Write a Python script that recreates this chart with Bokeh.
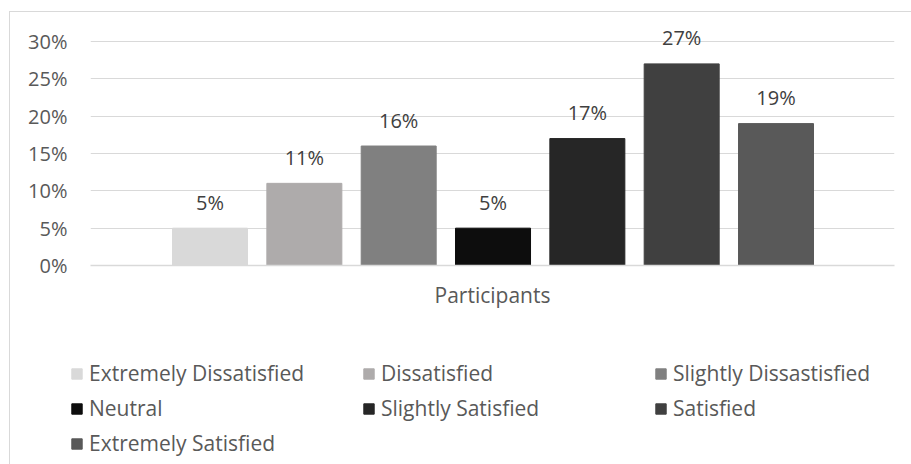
from bokeh.plotting import figure
from bokeh.layouts import column
from bokeh.models import (ColumnDataSource, Range1d, FixedTicker, NumeralTickFormatter,
                          LabelSet, Legend, LegendItem)
from bokeh.core.properties import value
from bokeh.embed import file_html
from bokeh.resources import INLINE

categories = ["Extremely Dissatisfied", "Dissatisfied", "Slightly Dissastisfied", "Neutral",
              "Slightly Satisfied", "Satisfied", "Extremely Satisfied"]
values = [0.05, 0.11, 0.16, 0.05, 0.17, 0.27, 0.19]
colors = ["#D9D9D9", "#AEABAB", "#808080", "#0D0D0D", "#262626", "#404040", "#595959"]
y_ticks = [0, 0.05, 0.10, 0.15, 0.20, 0.25, 0.30]
x_title = "Participants"

FONT = "Open Sans"
FS = "20px"
FS_WORDS = "21px"
TXT = "#595959"

src = ColumnDataSource(dict(
    x=list(range(len(categories))),
    top=values,
    color=colors,
    cat=categories,
    lab=[f"{round(v*100)}%" for v in values],
))

# ---------- chart ----------
p = figure(width=901, height=320, output_backend="svg", toolbar_location=None,
           x_range=Range1d(-1.267, 7.256), y_range=Range1d(0, 0.3388),
           min_border_left=80, min_border_right=17, min_border_top=0, min_border_bottom=67)
p.frame_align = False
p.outline_line_color = None
p.background_fill_color = "white"
p.border_fill_color = "white"

r = p.vbar(x="x", top="top", bottom=0, width=0.795, color="color", source=src)

p.yaxis.ticker = FixedTicker(ticks=y_ticks)
p.yaxis.formatter = NumeralTickFormatter(format="0%")
p.yaxis.axis_line_color = None
p.yaxis.major_tick_line_color = None
p.yaxis.minor_tick_line_color = None
p.yaxis.major_tick_out = 0
p.yaxis.major_tick_in = 0
p.yaxis.major_label_standoff = 23
p.yaxis.major_label_text_font = FONT
p.yaxis.major_label_text_font_size = FS
p.yaxis.major_label_text_color = TXT

p.xaxis.ticker = FixedTicker(ticks=[])
p.xaxis.axis_line_color = "#D9D9D9"
p.xaxis.axis_line_width = 1.5
p.xaxis.major_tick_line_color = None
p.xaxis.minor_tick_line_color = None
p.xaxis.major_tick_out = 0
p.xaxis.major_tick_in = 0
p.xaxis.major_label_text_font_size = "0px"
p.xaxis.axis_label = x_title
p.xaxis.axis_label_text_font = FONT
p.xaxis.axis_label_text_font_size = FS_WORDS
p.xaxis.axis_label_text_font_style = "normal"
p.xaxis.axis_label_text_color = TXT
p.xaxis.axis_label_standoff = 15

p.xgrid.grid_line_color = None
p.ygrid.grid_line_color = "#D9D9D9"
p.ygrid.grid_line_width = 1.2

labels = LabelSet(x="x", y="top", text="lab", source=src, text_align="center",
                  text_baseline="middle", y_offset=26, text_font=value(FONT),
                  text_font_size=value(FS), text_color="#404040")
p.add_layout(labels)

# ---------- legend panel ----------
q = figure(width=901, height=132, output_backend="svg", toolbar_location=None,
           x_range=Range1d(-1.267, 7.256), y_range=Range1d(10, 11),
           min_border_left=60, min_border_right=0, min_border_top=27, min_border_bottom=0)
q.frame_align = False
q.outline_line_color = None
q.axis.visible = False
q.grid.visible = False
q.background_fill_color = "white"
q.border_fill_color = "white"
rq = q.vbar(x="x", top="top", bottom=0, width=0.795, color="color", source=src)

items = [LegendItem(label=c, renderers=[rq], index=i) for i, c in enumerate(categories)]
legend = Legend(items=items, orientation="horizontal", ncols=3, location="top_left",
                glyph_width=13, glyph_height=13, label_standoff=6, label_width=266,
                spacing=7, padding=0, margin=0, border_line_color=None,
                background_fill_alpha=0, label_text_font=FONT, label_text_font_size=FS_WORDS,
                label_text_color=TXT)
q.add_layout(legend, "center")

layout = column(p, q, spacing=0)
layout.margin = (11, 0, 0, 9)
layout.styles = {"border-top": "1px solid #D9D9D9", "border-left": "1px solid #D9D9D9"}

open("out.html", "w").write(file_html(layout, INLINE))
